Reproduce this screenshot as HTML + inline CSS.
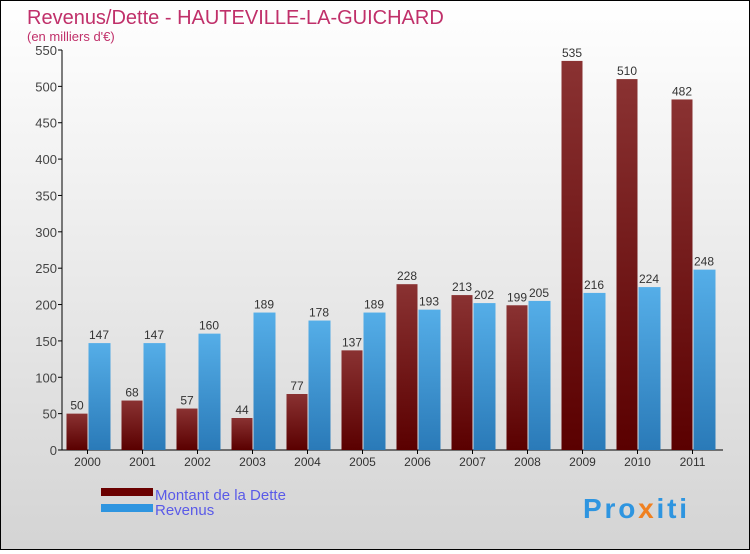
<!DOCTYPE html>
<html><head><meta charset="utf-8"><style>
html,body{margin:0;padding:0}
body{width:750px;height:550px;overflow:hidden;font-family:"Liberation Sans",sans-serif}
#wrap{position:relative;width:748px;height:548px;border:1px solid #000;background:linear-gradient(#ffffff,#d4d4d4)}
</style></head><body>
<div id="wrap">
<svg id="chart" width="748" height="548">
<defs>
<linearGradient id="gD" x1="0" y1="0" x2="0" y2="1"><stop offset="0" stop-color="#8a3232"/><stop offset="1" stop-color="#5a0000"/></linearGradient>
<linearGradient id="gR" x1="0" y1="0" x2="0" y2="1"><stop offset="0" stop-color="#55aee8"/><stop offset="1" stop-color="#2a7ab8"/></linearGradient>
</defs>
<text x="26" y="23" font-size="20" fill="#c0306a">Revenus/Dette - HAUTEVILLE-LA-GUICHARD</text>
<text x="26" y="40" font-size="13" fill="#c0306a">(en milliers d'€)</text>
<g id="axes"></g>
<g id="bars"></g>
<rect x="100" y="487" width="52" height="8" fill="#6a0000"/>
<rect x="100" y="503" width="52" height="8" fill="#2e95e0"/>
<text x="154" y="499" font-size="15" fill="#5a5ae8">Montant de la Dette</text>
<text x="154" y="514" font-size="15" fill="#5a5ae8">Revenus</text>
<text x="582" y="517" font-size="28" font-weight="bold" fill="#2e95e0" textLength="104">Pro<tspan fill="#f08020">x</tspan>iti</text>
</svg>
</div>
<script>
const years=["2000","2001","2002","2003","2004","2005","2006","2007","2008","2009","2010","2011"];
const dette=[50,68,57,44,77,137,228,213,199,535,510,482];
const revenus=[147,147,160,189,178,189,193,202,205,216,224,248];
const ticks=[0,50,100,150,200,250,300,350,400,450,500,550];
const NS="http://www.w3.org/2000/svg";
const x0=61,x1=722,y0=449,yMax=550,h=400;
const yS=v=>y0-v/yMax*h;
const gw=55,c0=86.5;
const axes=document.getElementById('axes'),bars=document.getElementById('bars');
function mk(t,a,p){const e=document.createElementNS(NS,t);for(const k in a)e.setAttribute(k,a[k]);p.appendChild(e);return e;}
let l=mk('line',{x1:x0,y1:y0,x2:x0,y2:yS(550),stroke:'#000'},axes);


l=mk('line',{x1:x0,y1:y0,x2:x1,y2:y0,stroke:'#000'},axes);


ticks.forEach(t=>{const y=yS(t);
mk('line',{x1:x0-4,y1:y,x2:x0,y2:y,stroke:'#000'},axes);
const tx=mk('text',{x:x0-5,y:y+5,'font-size':13,'text-anchor':'end',fill:'#444'},axes);tx.textContent=t;

});
years.forEach((yr,i)=>{const c=c0+i*gw;
mk('line',{x1:c,y1:y0,x2:c,y2:y0+4,stroke:'#000'},axes);
const tx=mk('text',{x:c,y:y0+16,'font-size':12,'text-anchor':'middle',fill:'#333'},axes);tx.textContent=yr;


const bw=21;
const d=mk('rect',{x:c-bw,y:yS(dette[i]),width:bw,height:y0-yS(dette[i]),fill:'url(#gD)'},bars);


const r=mk('rect',{x:c+1,y:yS(revenus[i]),width:bw+1,height:y0-yS(revenus[i]),fill:'url(#gR)'},bars);


let v=mk('text',{x:c-bw/2,y:yS(dette[i])-4,'font-size':12,'text-anchor':'middle',fill:'#333'},bars);v.textContent=dette[i];


v=mk('text',{x:c+1+bw/2,y:yS(revenus[i])-4,'font-size':12,'text-anchor':'middle',fill:'#333'},bars);v.textContent=revenus[i];

});
</script>
</body></html>
